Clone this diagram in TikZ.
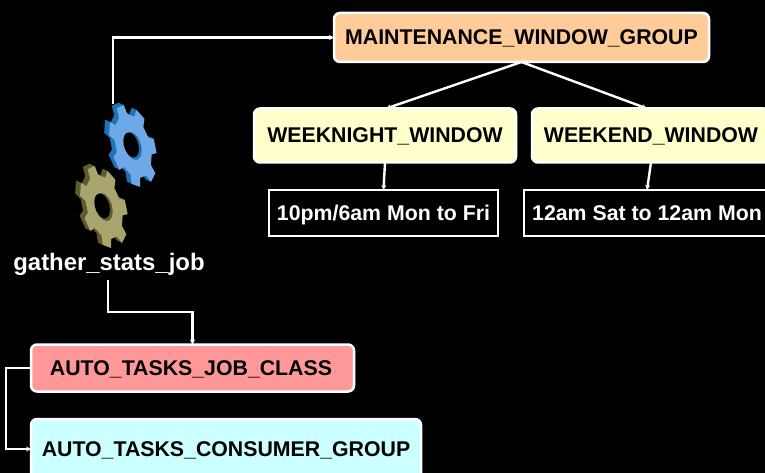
\documentclass[tikz,border=0pt]{standalone}
\usepackage{fontspec}
\setmainfont{Liberation Sans}
\usepackage{xcolor}
\usetikzlibrary{arrows.meta, positioning, calc}

\definecolor{maintFill}{HTML}{FFCC99}
\definecolor{windowFill}{HTML}{FFFFCC}
\definecolor{classFill}{HTML}{FF9999}
\definecolor{consumerFill}{HTML}{CCFFFF}
\definecolor{blueFace}{HTML}{6FA8E6}
\definecolor{blueSide}{HTML}{1F72B4}
\definecolor{oliveFace}{HTML}{A9A56E}
\definecolor{oliveSide}{HTML}{5F5C2C}

\newcommand{\gearoutline}{
    (-10:41) \foreach \a in {0,51.43,102.86,154.29,205.71,257.14,308.57} {
        -- (\a-10:41) -- (\a+10:41) -- (\a+15:32) -- (\a+36.43:32)
    } -- cycle
}
\newcommand{\gearicon}[4]{
    \begin{scope}[shift={(#1,#2)}, xslant=-0.2, xscale=0.55]
        \foreach \d in {8,7,...,1} {
            \fill[#4, shift={(-\d,-0.3*\d)}] \gearoutline;
        }
        \fill[#3] \gearoutline;
        \fill[#4] (0,0) ellipse (15 and 14);
        \fill[black] (-3,-1) ellipse (13.5 and 12.5);
    \end{scope}
}

\begin{document}
\begin{tikzpicture}[
        x=1pt,
        y=-1pt,
        font=\fontsize{21.3}{25}\selectfont\bfseries,
        box/.style={
            draw=white,
            rounded corners=6pt,
            line width=2.5pt,
            outer sep=0pt,
            inner sep=0pt,
            text=black,
            text height=17pt,
            text depth=2pt,
            align=center
        },
        plain/.style={box, sharp corners, fill=black, text=white},
        arrow/.style={-{Stealth[length=5pt, width=5pt]}, draw=white, line width=2.4pt}
    ]

        \useasboundingbox (0,0) rectangle (765,473);
        \clip (0,0) rectangle (765,473);
        \fill[black] (0,0) rectangle (765,473);

        % ---- Nodes ----
        \node[box, fill=maintFill, minimum width=375pt, minimum height=49pt] (maint) at (521.5,37.5) {MAINTENANCE\_WINDOW\_GROUP};

        \node[box, fill=windowFill, minimum width=262pt, minimum height=54pt] (wknight) at (385,135.5) {WEEKNIGHT\_WINDOW};
        \node[box, fill=windowFill, minimum width=238pt, minimum height=54pt] (wkend) at (651,135.5) {WEEKEND\_WINDOW};

        \node[plain, minimum width=229pt, minimum height=46pt] (monfri) at (383.5,213) {10pm/6am Mon to Fri};
        \node[plain, minimum width=246pt, minimum height=46pt] (satmon) at (647,213) {12am Sat to 12am Mon};

        \node[box, fill=classFill, minimum width=323pt, minimum height=47pt] (jobclass) at (192.5,368) {\hspace*{-3pt}AUTO\_TASKS\_JOB\_CLASS};
        \node[box, fill=consumerFill, minimum width=390pt, minimum height=60pt] (consumer) at (226,449) {AUTO\_TASKS\_CONSUMER\_GROUP};

        \node[text=white, font=\fontsize{23.9}{28}\selectfont\bfseries] (job) at (109,264.5) {gather\_stats\_job};

        % ---- Gears ----
        \gearicon{104}{207}{oliveFace}{oliveSide}
        \gearicon{133}{146}{blueFace}{blueSide}
        \coordinate (gearTop) at (113,104);
        \coordinate (jobFoot) at (108,280);

        % ---- Arrows ----
        \draw[arrow] (gearTop) |- (maint.west);
        \draw[arrow] (maint.south) -- ([xshift=1pt]wknight.north);
        \draw[arrow] (maint.south) -- ([xshift=-4pt]wkend.north);
        \draw[arrow] (wknight.south) -- (monfri.north);
        \draw[arrow] (wkend.south) -- (satmon.north);
        \draw[arrow] (jobFoot) -- ++(0,32) -| (jobclass.north);
        \draw[arrow] (jobclass.west) -- ++(-25,0) |- (consumer.west);

    \end{tikzpicture}
\end{document}
